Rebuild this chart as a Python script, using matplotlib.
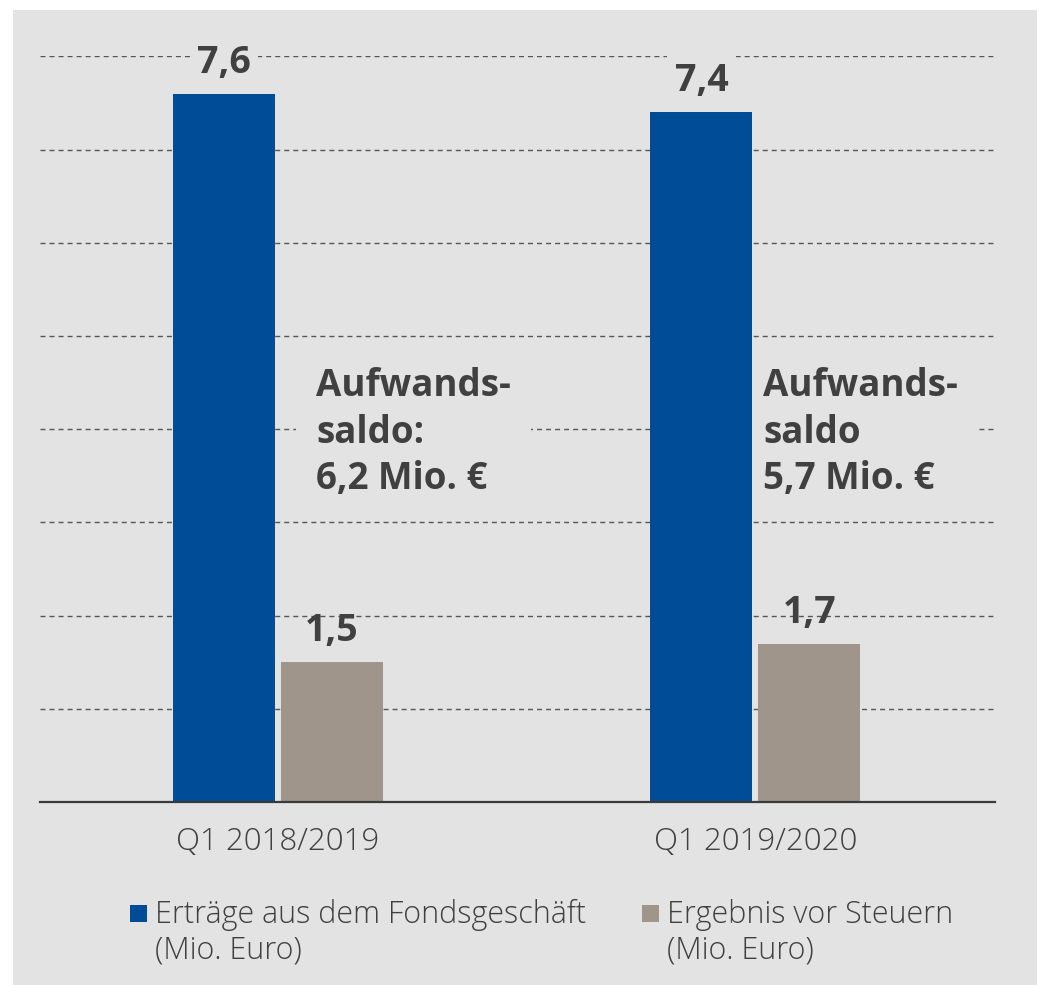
import matplotlib
matplotlib.use("Agg")
import matplotlib.pyplot as plt
from matplotlib.patches import Rectangle

# ---- data ----
categories = ["Q1 2018/2019", "Q1 2019/2020"]
ertraege = [7.6, 7.4]          # Erträge aus dem Fondsgeschäft (Mio. Euro)
ergebnis = [1.5, 1.7]          # Ergebnis vor Steuern (Mio. Euro)
series_names = ["Erträge aus dem Fondsgeschäft\n(Mio. Euro)",
                "Ergebnis vor Steuern\n(Mio. Euro)"]
value_labels_1 = ["7,6", "7,4"]
value_labels_2 = ["1,5", "1,7"]
notes = ["Aufwands-\nsaldo:\n6,2 Mio. €", "Aufwands-\nsaldo\n5,7 Mio. €"]

# ---- style ----
BLUE = "#004c97"
TAUPE = "#9f958a"
BG = "#e3e3e3"
TXT = "#404040"
FONT = "Open Sans"

W, H = 1037, 985
fig = plt.figure(figsize=(W / 100, H / 100), dpi=100, facecolor="white")
fig.add_artist(Rectangle((13 / W, 0), 1 - 13 / W, 1 - 10 / H,
                         transform=fig.transFigure, facecolor=BG,
                         edgecolor="none", zorder=-10))

ax = fig.add_axes([40 / W, (H - 802) / H, 955 / W, 745.6 / H])
ax.set_facecolor("none")

x = list(range(len(categories)))
bw = 0.2136
off = 0.1131
b1 = ax.bar([i - off for i in x], ertraege, width=bw, color=BLUE, zorder=2)
b2 = ax.bar([i + off for i in x], ergebnis, width=bw, color=TAUPE, zorder=2)

ax.set_xlim(-0.4984, 1.5016)
ax.set_ylim(0, 8)
ax.set_yticks(range(1, 9))
ax.yaxis.grid(True, color="#555555", linewidth=1.0, linestyle=(0, (3.6, 2.9)))
ax.set_axisbelow(True)
ax.tick_params(axis="y", left=False, labelleft=False)
for s in ["left", "right", "top"]:
    ax.spines[s].set_visible(False)
ax.spines["bottom"].set_color("#3a3a3a")
ax.spines["bottom"].set_linewidth(1.6)
ax.spines["bottom"].set_zorder(3)

ax.set_xticks(x)
ax.set_xticklabels(categories, fontsize=22.5, color=TXT, family=FONT,
                   fontweight="light")
ax.tick_params(axis="x", length=0, pad=17)

# value labels
for i, (v, lab) in enumerate(zip(ertraege, value_labels_1)):
    ax.annotate(lab, (i - off, v), xytext=(0, 15), textcoords="offset points",
                ha="center", va="baseline", fontsize=27, fontweight="bold",
                color=TXT, family=FONT, zorder=4,
                bbox=dict(boxstyle="square,pad=0.2", facecolor=BG,
                          edgecolor="none"))
for i, (v, lab) in enumerate(zip(ergebnis, value_labels_2)):
    ax.annotate(lab, (i + off, v), xytext=(0, 15), textcoords="offset points",
                ha="center", va="baseline", fontsize=27, fontweight="bold",
                color=TXT, family=FONT, zorder=1)

# notes (Aufwandssaldo) -- anchored at the baseline of the last line
note_x = [0.0796, 1.0157]
note_y = 3.358
for nx, txt in zip(note_x, notes):
    ax.text(nx, note_y, txt, ha="left", va="baseline", fontsize=26.5,
            fontweight="bold", color=TXT, family=FONT, linespacing=1.29,
            zorder=1.5,
            bbox=dict(boxstyle="square,pad=0.55", facecolor=BG,
                      edgecolor="none"))

# legend (manual)
leg_sq_x = [130, 642]
leg_tx_x = [155, 667]
line_baselines = [923, 958]
for sx, tx, col, name in zip(leg_sq_x, leg_tx_x, [BLUE, TAUPE], series_names):
    fig.add_artist(Rectangle((sx / W, (H - 922) / H), 17 / W, 17 / H,
                             transform=fig.transFigure, facecolor=col,
                             edgecolor="none"))
    for line, by in zip(name.split("\n"), line_baselines):
        fig.text(tx / W, (H - by) / H, line, ha="left", va="baseline",
                 fontsize=22, color=TXT, family=FONT, fontweight="light")

fig.savefig("out.png", dpi=100, facecolor="white")
